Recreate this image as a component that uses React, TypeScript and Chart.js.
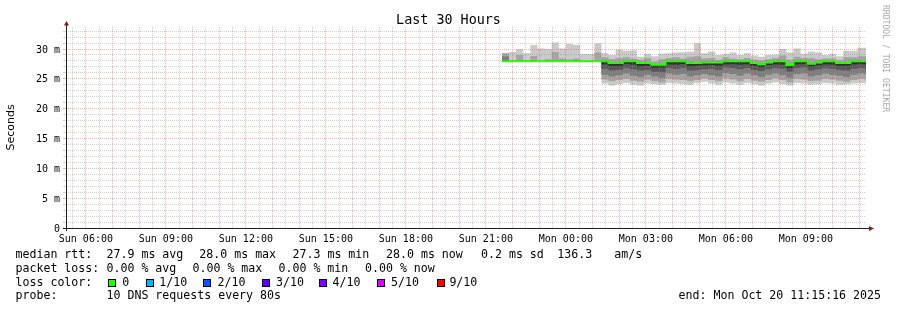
import React, { useEffect, useRef } from 'react';
import { Chart, registerables } from 'chart.js';

Chart.register(...registerables);

// x axis: hours since Sun 00:00; 30 hour window ending Mon 11:15:16
const windowStartHour = 5 + 15 / 60 + 16 / 3600;
const windowEndHour = windowStartHour + 30;
const firstSampleHour = 21.6; // Sun 21:36
const sampleStepHours = 16 / 60; // 16 minute consolidated step

const xLabelHours = [6, 9, 12, 15, 18, 21, 24, 27, 30, 33];
const xLabels = ['Sun 06:00', 'Sun 09:00', 'Sun 12:00', 'Sun 15:00', 'Sun 18:00', 'Sun 21:00', 'Mon 00:00', 'Mon 03:00', 'Mon 06:00', 'Mon 09:00'];
const yLabelValues = [0, 5, 10, 15, 20, 25, 30];
const yLabels = ['0', '5 m', '10 m', '15 m', '20 m', '25 m', '30 m'];
const yMaxMs = 33.69;

// RTT values in ms for each 16 minute column (smoke bands, outer to inner)
const medianRtt = [
  27.95, 27.95, 27.95, 27.95, 27.95, 27.95, 27.95, 27.95, 27.95, 27.95, 27.95, 27.95, 27.95, 27.95,
  27.95, 27.65, 27.65, 27.95, 27.95, 27.65, 27.65, 27.35, 27.35, 27.95, 27.95, 27.95, 27.65, 27.65,
  27.75, 27.75, 27.75, 27.95, 27.95, 27.95, 27.95, 27.65, 27.45, 27.75, 27.95, 27.95, 27.3, 27.95,
  27.95, 27.55, 27.75, 27.95, 27.95, 27.65, 27.65, 27.95, 27.95, 27.95,
];
const maxRtt = [
  29.3, 29.5, 29.95, 29.3, 30.67, 30.1, 30.0, 31.1, 30.1, 30.84, 30.67, 29.16, 29.16, 30.95,
  29.3, 29.0, 29.9, 29.7, 29.8, 28.7, 29.2, 28.8, 29.2, 29.3, 29.4, 29.45, 29.55, 30.95,
  29.3, 29.6, 29.0, 29.2, 29.4, 29.0, 29.3, 28.9, 28.7, 29.0, 29.1, 30.0, 29.4, 30.1,
  29.2, 29.6, 29.4, 29.0, 29.2, 28.8, 29.7, 29.7, 30.2, 30.2,
];
const hi2Rtt = [
  29.3, 27.95, 29.0, 27.95, 28.85, 27.95, 28.3, 29.5, 28.4, 28.3, 28.4, 27.95, 27.95, 29.4,
  28.6, 28.3, 28.5, 28.6, 28.4, 28.2, 28.5, 27.9, 28.3, 28.5, 28.6, 28.4, 28.7, 28.8,
  28.4, 28.5, 28.2, 28.6, 28.4, 28.3, 28.5, 28.2, 28.1, 28.3, 28.5, 28.9, 28.2, 28.7,
  28.5, 28.5, 28.3, 28.4, 28.4, 28.1, 28.6, 28.6, 28.8, 28.8,
];
const hi3Rtt = [
  28.77, 27.95, 27.95, 27.95, 27.95, 27.95, 27.95, 27.95, 27.95, 27.95, 27.95, 27.95, 27.95, 27.95,
  28.1, 27.8, 27.8, 28.1, 28.05, 27.8, 27.75, 27.5, 27.5, 28.1, 28.05, 28.1, 27.85, 27.8,
  27.9, 27.9, 27.9, 28.1, 28.05, 28.0, 28.1, 27.8, 27.6, 27.9, 28.1, 28.05, 27.45, 28.1,
  28.05, 27.7, 27.9, 28.1, 28.05, 27.8, 27.8, 28.1, 28.05, 28.1,
];
const lo5Rtt = [
  27.95, 27.95, 27.95, 27.95, 27.95, 27.95, 27.95, 27.95, 27.95, 27.95, 27.95, 27.95, 27.95, 27.95,
  27.45, 27.15, 27.1, 27.5, 27.4, 27.1, 27.15, 26.85, 26.9, 27.45, 27.4, 27.5, 27.1, 27.2,
  27.25, 27.3, 27.2, 27.45, 27.5, 27.4, 27.45, 27.15, 26.95, 27.3, 27.45, 27.4, 26.8, 27.45,
  27.5, 27.05, 27.25, 27.45, 27.4, 27.15, 27.1, 27.45, 27.5, 27.4,
];
const lo4Rtt = [
  27.95, 27.95, 27.95, 27.95, 27.95, 27.95, 27.95, 27.95, 27.95, 27.95, 27.95, 27.95, 27.95, 27.95,
  26.7, 26.4, 26.5, 26.8, 26.6, 26.4, 26.5, 26.2, 26.1, 26.8, 26.7, 26.8, 26.4, 26.5,
  26.6, 26.7, 26.5, 26.9, 26.8, 26.6, 26.8, 26.5, 26.3, 26.6, 26.8, 26.7, 26.2, 26.8,
  26.9, 26.4, 26.6, 26.8, 26.7, 26.5, 26.4, 26.7, 26.8, 26.7,
];
const lo3Rtt = [
  27.95, 27.95, 27.95, 27.95, 27.95, 27.95, 27.95, 27.95, 27.95, 27.95, 27.95, 27.95, 27.95, 27.95,
  25.7, 25.4, 25.6, 25.9, 25.5, 25.3, 25.7, 25.4, 25.2, 25.9, 25.7, 25.8, 25.4, 25.6,
  25.8, 25.6, 25.4, 26.0, 25.8, 25.5, 25.9, 25.6, 25.3, 25.7, 25.9, 25.6, 25.2, 25.8,
  25.9, 25.4, 25.6, 25.9, 25.7, 25.5, 25.3, 25.7, 25.9, 25.7,
];
const lo2Rtt = [
  27.95, 27.95, 27.95, 27.95, 27.95, 27.95, 27.95, 27.95, 27.95, 27.95, 27.95, 27.95, 27.95, 27.95,
  24.9, 24.6, 24.8, 25.0, 24.7, 24.5, 24.9, 24.6, 24.4, 25.0, 24.9, 24.8, 24.6, 24.8,
  25.1, 24.8, 24.6, 25.1, 24.9, 24.6, 25.0, 24.7, 24.5, 24.8, 25.1, 24.8, 24.4, 25.0,
  24.9, 24.6, 24.7, 25.0, 24.9, 24.7, 24.5, 24.8, 25.0, 24.9,
];
const minRtt = [
  27.95, 27.95, 27.95, 27.95, 27.95, 27.95, 27.95, 27.95, 27.95, 27.95, 27.95, 27.95, 27.95, 27.95,
  24.2, 23.9, 24.1, 24.3, 24.0, 23.9, 24.2, 24.1, 24.0, 24.3, 24.2, 24.1, 24.0, 24.3,
  24.5, 24.2, 24.0, 24.4, 24.2, 24.0, 24.3, 24.1, 23.9, 24.2, 24.4, 24.1, 23.9, 24.3,
  24.2, 24.0, 24.1, 24.3, 24.2, 24.0, 24.1, 24.2, 24.3, 24.2,
];

const sampleHours = medianRtt.map((_, i) => firstSampleHour + i * sampleStepHours);

const rttStats = ['27.9 ms avg', '28.0 ms max', '27.3 ms min', '28.0 ms now', '0.2 ms sd', '136.3', 'am/s'];
const lossStats = ['0.00 % avg', '0.00 % max', '0.00 % min', '0.00 % now'];
const lossLabels = ['0', '1/10', '2/10', '3/10', '4/10', '5/10', '9/10'];
const lossColors = ['#26ff00', '#00b8ff', '#0059ff', '#5e00ff', '#7e00ff', '#dd00ff', '#ff0000'];

const GREY_GRID = 'rgba(140,140,140,0.4)';
const RED_GRID = 'rgba(225,80,80,0.45)';
const MONO = '"DejaVu Sans Mono", monospace';

function pts(arr: number[]) {
  const n = arr.length;
  const out = arr.map((v, i) => ({ x: sampleHours[i], y: v }));
  out.push({ x: sampleHours[n - 1] + sampleStepHours, y: arr[n - 1] });
  return out;
}

function band(lo: number[], hi: number[], color: string, order: number) {
  const base = { type: 'line', pointRadius: 0, borderWidth: 0, borderColor: 'rgba(0,0,0,0)', stepped: true, tension: 0, order };
  return [
    { ...base, data: pts(lo), fill: false, backgroundColor: 'rgba(0,0,0,0)' },
    { ...base, data: pts(hi), fill: '-1', backgroundColor: color },
  ];
}

const axesPlugin = {
  id: 'rrdAxes',
  afterDraw(chart: any) {
    const { ctx, chartArea } = chart;
    const left = Math.round(chartArea.left);
    const right = Math.round(chartArea.right);
    const top = Math.round(chartArea.top);
    const bottom = Math.round(chartArea.bottom);
    ctx.save();
    ctx.strokeStyle = '#1f1f1f';
    ctx.lineWidth = 1;
    ctx.beginPath();
    ctx.moveTo(left - 3, bottom + 0.5);
    ctx.lineTo(right + 3, bottom + 0.5);
    ctx.moveTo(left + 0.5, bottom + 3);
    ctx.lineTo(left + 0.5, top - 2);
    ctx.stroke();
    ctx.fillStyle = '#801f1f';
    ctx.beginPath();
    ctx.moveTo(left + 0.5, top - 6);
    ctx.lineTo(left + 3, top - 1.5);
    ctx.lineTo(left - 2, top - 1.5);
    ctx.closePath();
    ctx.fill();
    ctx.beginPath();
    ctx.moveTo(right + 8, bottom + 0.5);
    ctx.lineTo(right + 3, bottom + 3);
    ctx.lineTo(right + 3, bottom - 2);
    ctx.closePath();
    ctx.fill();
    ctx.restore();
  },
};

const xGridHours: number[] = [];
for (let h = Math.ceil(windowStartHour * 2) / 2; h <= windowEndHour; h += 0.5) xGridHours.push(h);
const yGridValues: number[] = [];
for (let v = 0; v <= Math.floor(yMaxMs); v += 1) yGridValues.push(v);

export default function App() {
  const ref = useRef<HTMLCanvasElement>(null);
  useEffect(() => {
    const datasets: any[] = [
      ...band(minRtt, maxRtt, '#cacaca', 6),
      ...band(lo2Rtt, hi2Rtt, '#a4a4a4', 5),
      ...band(lo3Rtt, hi3Rtt, '#7e7e7e', 4),
      ...band(lo4Rtt, medianRtt, '#585858', 3),
      ...band(lo5Rtt, medianRtt, '#323232', 2),
      {
        type: 'line', data: pts(medianRtt), borderColor: '#26ff00', borderWidth: 2, pointRadius: 0,
        stepped: true, fill: false, order: 1, backgroundColor: '#26ff00',
      },
    ];
    const chart = new Chart(ref.current as HTMLCanvasElement, {
      type: 'line',
      data: { datasets },
      plugins: [axesPlugin],
      options: {
        animation: false,
        responsive: false,
        maintainAspectRatio: false,
        events: [],
        layout: { padding: { top: 27, right: 31, bottom: 0, left: 0 } },
        plugins: {
          legend: { display: false },
          tooltip: { enabled: false },
          title: { display: false },
        },
        scales: {
          x: {
            type: 'linear', min: windowStartHour, max: windowEndHour,
            afterBuildTicks: (s: any) => { s.ticks = xGridHours.map((v) => ({ value: v })); },
            afterFit: (s: any) => { s.height = 82; },
            grid: {
              z: 1, drawTicks: false, lineWidth: 1,
              color: (c: any) => (c.tick && Number.isInteger(c.tick.value) ? RED_GRID : GREY_GRID),
            },
            border: { display: false, dash: [1, 1] },
            ticks: {
              autoSkip: false, maxRotation: 0, minRotation: 0, padding: 5.5, color: '#000',
              font: { family: MONO, size: 10 },
              callback: (v: any) => { const i = xLabelHours.indexOf(Number(v)); return i >= 0 ? xLabels[i] : ''; },
            },
          },
          y: {
            type: 'linear', min: 0, max: yMaxMs,
            afterBuildTicks: (s: any) => { s.ticks = yGridValues.map((v) => ({ value: v })); },
            afterFit: (s: any) => { s.width = 66; },
            grid: {
              z: 1, drawTicks: true, tickLength: 3, lineWidth: 1,
              color: (c: any) => (c.tick && c.tick.value % 5 === 0 ? RED_GRID : GREY_GRID),
            },
            border: { display: false, dash: [1, 1] },
            title: {
              display: true, text: 'Seconds', color: '#000',
              font: { family: '"DejaVu Sans", sans-serif', size: 11, lineHeight: 1.2 },
              padding: { top: 4.5, bottom: 0 },
            },
            ticks: {
              autoSkip: false, padding: 3, color: '#000', labelOffset: 1,
              font: { family: MONO, size: 10 },
              callback: (v: any) => { const i = yLabelValues.indexOf(Number(v)); return i >= 0 ? yLabels[i] : ''; },
            },
          },
        },
      } as any,
    });
    return () => chart.destroy();
  }, []);

  const txt = (left: number, top: number, s: string, extra: any = {}) => (
    <div style={{ position: 'absolute', left, top, font: `11.6px ${MONO}`, lineHeight: '14px', whiteSpace: 'pre', color: '#000', ...extra }}>{s}</div>
  );
  const rttX = [106.5, 199.3, 292.5, 386, 481, 557.3, 614.3];
  const lossX = [106.5, 192.5, 278.5, 365];
  const boxX = [108, 145.5, 203, 261.5, 319, 376.5, 436.5];
  const boxLabelX = [122.2, 159.2, 217.5, 276, 332.6, 391, 449.4];

  return (
    <div style={{ position: 'absolute', left: 0, top: 0, width: 897, height: 310, background: '#fff', overflow: 'hidden' }}>
      <canvas ref={ref} width={897} height={310} style={{ display: 'block', width: 897, height: 310 }} />
      <div style={{ position: 'absolute', left: 0, top: 11.5, width: 897, textAlign: 'center', font: `13.4px ${MONO}`, lineHeight: '16px', whiteSpace: 'pre', color: '#000' }}>Last 30 Hours</div>
      {txt(15.5, 247, 'median rtt:')}
      {rttStats.map((s, i) => <React.Fragment key={'r' + i}>{txt(rttX[i], 247, s)}</React.Fragment>)}
      {txt(15.5, 260.5, 'packet loss:')}
      {lossStats.map((s, i) => <React.Fragment key={'l' + i}>{txt(lossX[i], 260.5, s)}</React.Fragment>)}
      {txt(15.5, 274.5, 'loss color:')}
      {lossLabels.map((s, i) => (
        <React.Fragment key={'c' + i}>
          <div style={{ position: 'absolute', left: boxX[i], top: 279, width: 8, height: 8, boxSizing: 'border-box', border: '1px solid #000', background: lossColors[i] }} />
          {txt(boxLabelX[i], 274.5, s)}
        </React.Fragment>
      ))}
      {txt(15.5, 288, 'probe:')}
      {txt(106.5, 288, '10 DNS requests every 80s')}
      {txt(0, 288, 'end: Mon Oct 20 11:15:16 2025', { left: 'auto', right: 16, textAlign: 'right' })}
      <div style={{ position: 'absolute', left: 891, top: 4.5, transform: 'rotate(90deg)', transformOrigin: 'left top', font: `8.1px ${MONO}`, lineHeight: '10px', whiteSpace: 'pre', color: '#a8a8a8' }}>RRDTOOL / TOBI OETIKER</div>
    </div>
  );
}
